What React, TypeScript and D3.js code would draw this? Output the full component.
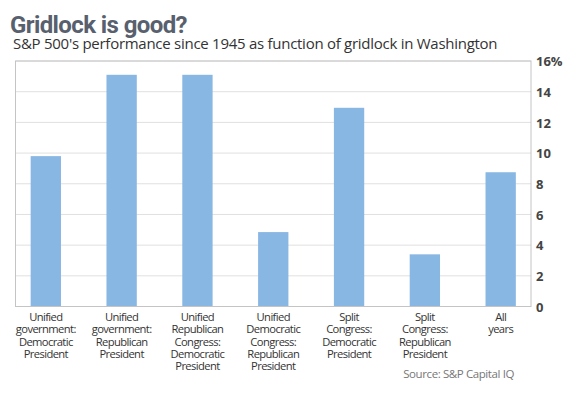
import { scaleBand, scaleLinear } from 'd3';

const categories = [
  ['Unified', 'government:', 'Democratic', 'President'],
  ['Unified', 'government:', 'Republican', 'President'],
  ['Unified', 'Republican', 'Congress:', 'Democratic', 'President'],
  ['Unified', 'Democratic', 'Congress:', 'Republican', 'President'],
  ['Split', 'Congress:', 'Democratic', 'President'],
  ['Split', 'Congress:', 'Republican', 'President'],
  ['All', 'years'],
];
const performance = [9.8, 15.1, 15.1, 4.85, 12.95, 3.4, 8.75];
const yTicks = [0, 2, 4, 6, 8, 10, 12, 14, 16];

const W = 569;
const H = 398;
const plot = { left: 15.5, right: 531, top: 61, bottom: 306.5 };

function App(): JSX.Element {
  const x = scaleBand<number>()
    .domain(categories.map((_c, i) => i))
    .range([plot.left, plot.right])
    .paddingInner(0.6)
    .paddingOuter(0.2);
  const y = scaleLinear().domain([0, 16]).range([plot.bottom, plot.top]);

  return (
    <svg
      width={W}
      height={H}
      style={{ position: 'absolute', left: 0, top: 0, background: '#fff' }}
    >
      <text
        x={10}
        y={33}
        fontFamily="Roboto"
        fontWeight="bold"
        fontSize={24}
        letterSpacing={-0.6}
        fill="#58606e"
      >
        Gridlock is good?
      </text>
      <text
        x={13}
        y={49}
        fontFamily="Open Sans"
        fontSize={15}
        letterSpacing={-0.27}
        fill="#333"
      >
        S&amp;P 500's performance since 1945 as function of gridlock in Washington
      </text>

      {/* gridlines */}
      {yTicks.map((t) => (
        <line
          key={t}
          x1={plot.left}
          x2={plot.right}
          y1={y(t)}
          y2={y(t)}
          stroke="#e0e0e0"
          strokeWidth={1}
        />
      ))}

      {/* bars */}
      {performance.map((v, i) => (
        <rect
          key={i}
          x={x(i)}
          y={y(v)}
          width={x.bandwidth()}
          height={y(0) - y(v)}
          fill="#89b7e3"
        />
      ))}

      <rect
        x={plot.left}
        y={plot.top}
        width={plot.right - plot.left}
        height={plot.bottom - plot.top}
        fill="none"
        stroke="#c4c4c4"
        strokeWidth={1}
      />

      {/* y axis labels */}
      {yTicks.map((t) => (
        <text
          key={t}
          x={536}
          y={y(t)}
          dy="0.4em"
          fontFamily="Open Sans"
          fontWeight="bold"
          fontSize={13}
          fill="#444"
        >
          {t === 16 ? '16%' : t}
        </text>
      ))}

      {/* category labels */}
      {categories.map((lines, i) => {
        const cx = (x(i) ?? 0) + x.bandwidth() / 2;
        return (
          <text
            key={i}
            x={cx}
            y={321}
            textAnchor="middle"
            fontFamily="Open Sans"
            fontSize={11.2}
            letterSpacing={-0.6}
            fill="#333"
          >
            {lines.map((l, j) => (
              <tspan key={j} x={cx} dy={j === 0 ? 0 : 12.3}>
                {l}
              </tspan>
            ))}
          </text>
        );
      })}

      <text
        x={514}
        y={378}
        textAnchor="end"
        fontFamily="Open Sans"
        fontSize={11.5}
        letterSpacing={-0.4}
        fill="#777"
      >
        Source: S&amp;P Capital IQ
      </text>
    </svg>
  );
}

export default App;
